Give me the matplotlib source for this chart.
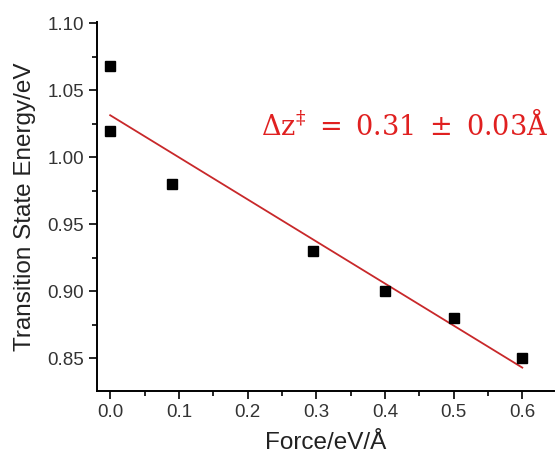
import numpy as np
import matplotlib
matplotlib.use("Agg")
import matplotlib.pyplot as plt
from matplotlib.ticker import MultipleLocator

# data
force = [0.0, 0.0, 0.09, 0.295, 0.40, 0.50, 0.60]
energy = [1.068, 1.020, 0.980, 0.930, 0.900, 0.880, 0.850]

plt.rcParams['font.family'] = ['Liberation Sans', 'DejaVu Sans']
plt.rcParams['mathtext.fontset'] = 'dejavuserif'

fig = plt.figure(figsize=(5.55, 4.59), dpi=100)
ax = fig.add_axes([0.175, 0.148, 0.823, 0.804])

# linear fit through the points
slope, icpt = np.polyfit(force, energy, 1)
xf = np.array([min(force), max(force)])
ax.plot(xf, slope * xf + icpt, color='#c8282a', lw=1.3, zorder=2)
ax.plot(force, energy, 's', color='black', markersize=7.2, zorder=3)

ax.text(0.219, 1.0235, r'$\Delta \mathrm{z}^{\ddagger}\ =\ 0.31\ \pm\ 0.03\mathrm{\AA}$',
        color='#e02020', fontsize=19.5, va='center', ha='left')

ax.set_xlim(-0.019, 0.646)
ax.set_ylim(0.8255, 1.101)
ax.xaxis.set_minor_locator(MultipleLocator(0.05))
ax.yaxis.set_minor_locator(MultipleLocator(0.025))
ax.set_xticks(np.arange(0, 0.61, 0.1))
ax.set_xticklabels(['0.0', '0.1', '0.2', '0.3', '0.4', '0.5', '0.6'])
ax.set_yticks(np.arange(0.85, 1.101, 0.05))
ax.set_yticklabels(['0.85', '0.90', '0.95', '1.00', '1.05', '1.10'])

ax.spines['top'].set_visible(False)
ax.spines['right'].set_visible(False)
for s in ['left', 'bottom']:
    ax.spines[s].set_linewidth(1.4)
ax.tick_params(which='major', direction='out', length=6, width=1.2,
               labelsize=13.5, colors='black', labelcolor='#333333')
ax.tick_params(which='minor', direction='out', length=3.5, width=1.2)

ax.set_xlabel('Force/eV/Å', fontsize=17.5, color='#222222', labelpad=8)
ax.set_ylabel('Transition State Energy/eV', fontsize=17.5, color='#222222', labelpad=8)

fig.savefig('out.png', dpi=100)
